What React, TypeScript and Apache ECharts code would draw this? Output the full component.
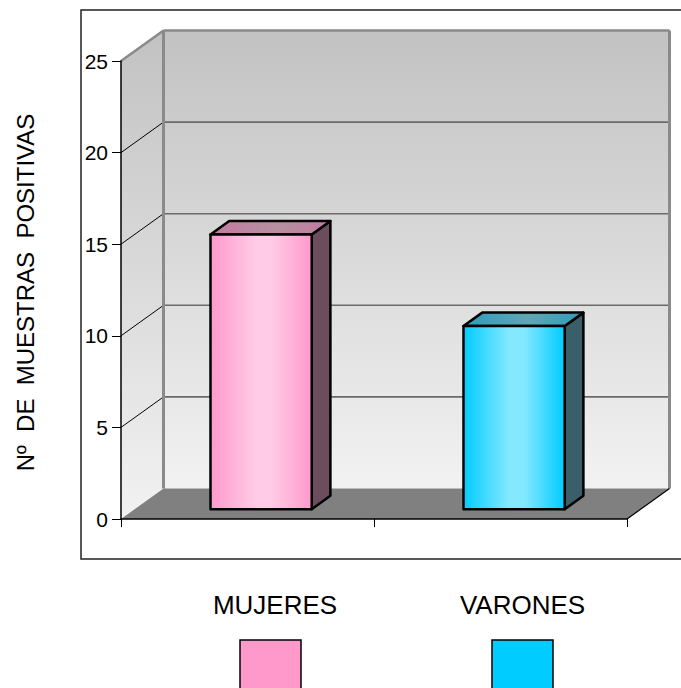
import React, { useEffect, useRef } from "react";
import * as echarts from "echarts";

const categories = ["MUJERES", "VARONES"];
const values = [15, 10];
const yTicks = [0, 5, 10, 15, 20, 25];
const yTitle = "Nº  DE  MUESTRAS  POSITIVAS";

const FONT = "'Liberation Sans', Arial, Helvetica, sans-serif";
const DX = 42.5;
const DY = -30.5;
const FRONT = 0.32;
const BACK = 0.76;
const BAR_FRAC = 0.4;

const palettes = [
  { edge: "#ff99cc", mid: "#ffcbe6", top1: "#c47aa2", top2: "#b6909f", side: "#6b4d5e", legend: "#ff99cc" },
  { edge: "#00ccff", mid: "#84e8ff", top1: "#2f9cbd", top2: "#5fa6b4", side: "#3b5f69", legend: "#00ccff" },
];

export default function App() {
  const ref = useRef<HTMLDivElement>(null);

  useEffect(() => {
    if (!ref.current) return;
    const chart = echarts.init(ref.current, null, { renderer: "svg" });

    const wallsRender = (params: any, api: any) => {
      const cs = params.coordSys;
      const x0 = cs.x;
      const x1 = cs.x + cs.width;
      const yT = cs.y;
      const yB = cs.y + cs.height;
      const grad = () =>
        new echarts.graphic.LinearGradient(0, 0, 0, 1, [
          { offset: 0, color: "#c2c2c2" },
          { offset: 1, color: "#f2f2f2" },
        ]);
      const children: any[] = [
        {
          type: "rect",
          shape: { x: x0 + DX, y: yT + DY, width: cs.width, height: cs.height },
          style: { fill: grad() },
        },
        {
          type: "polygon",
          shape: { points: [[x0, yT], [x0 + DX, yT + DY], [x0 + DX, yB + DY], [x0, yB]] },
          style: { fill: grad() },
        },
        {
          type: "polygon",
          shape: { points: [[x0, yB], [x0 + DX, yB + DY], [x1 + DX, yB + DY], [x1, yB]] },
          style: { fill: "#808080" },
        },
      ];
      const topV = yTicks[yTicks.length - 1];
      yTicks.forEach((v) => {
        if (v === yTicks[0]) return;
        const y = api.coord([0, v])[1];
        const isTop = v === topV;
        children.push({
          type: "line",
          shape: { x1: x0 + DX, y1: y + DY, x2: x1 + DX, y2: y + DY },
          style: { stroke: isTop ? "#8a8a8a" : "#6a6a6a", lineWidth: isTop ? 2.5 : 1.6 },
        });
        children.push({
          type: "line",
          shape: { x1: x0, y1: y, x2: x0 + DX, y2: y + DY },
          style: { stroke: isTop ? "#8a8a8a" : "#000", lineWidth: isTop ? 2.5 : 1 },
        });
      });
      children.push({
        type: "line",
        shape: { x1: x0 + DX, y1: yT + DY, x2: x0 + DX, y2: yB + DY },
        style: { stroke: "#8a8a8a", lineWidth: 3 },
      });
      children.push({
        type: "line",
        shape: { x1: x1 + DX, y1: yT + DY, x2: x1 + DX, y2: yB + DY },
        style: { stroke: "#8a8a8a", lineWidth: 3 },
      });
      children.push({
        type: "line",
        shape: { x1: x1, y1: yB, x2: x1 + DX, y2: yB + DY },
        style: { stroke: "#000", lineWidth: 1.2 },
      });
      return { type: "group", children };
    };

    const barsRender = (params: any, api: any) => {
      const idx = api.value(0);
      const v = api.value(1);
      const base = api.coord([idx, 0]);
      const top = api.coord([idx, v]);
      const bw = api.size([1, 0])[0] * BAR_FRAC;
      const fx = FRONT * DX;
      const fy = FRONT * DY;
      const ddx = (BACK - FRONT) * DX;
      const ddy = (BACK - FRONT) * DY;
      const l = base[0] - bw / 2 + fx;
      const r = base[0] + bw / 2 + fx;
      const t = top[1] + fy;
      const b = base[1] + fy;
      const p = palettes[idx % palettes.length];
      const stroke = { stroke: "#000", lineWidth: 2.5, lineJoin: "round" };
      return {
        type: "group",
        children: [
          {
            type: "polygon",
            shape: { points: [[r, t], [r + ddx, t + ddy], [r + ddx, b + ddy], [r, b]] },
            style: { fill: p.side, ...stroke },
          },
          {
            type: "polygon",
            shape: { points: [[l, t], [r, t], [r + ddx, t + ddy], [l + ddx, t + ddy]] },
            style: {
              fill: new echarts.graphic.LinearGradient(0, 0, 1, 0, [
                { offset: 0, color: p.top1 },
                { offset: 0.55, color: p.top2 },
                { offset: 1, color: p.top1 },
              ]),
              ...stroke,
            },
          },
          {
            type: "rect",
            shape: { x: l, y: t, width: r - l, height: b - t },
            style: {
              fill: new echarts.graphic.LinearGradient(0, 0, 1, 0, [
                { offset: 0, color: p.edge },
                { offset: 0.45, color: p.mid },
                { offset: 0.6, color: p.mid },
                { offset: 1, color: p.edge },
              ]),
              ...stroke,
            },
          },
        ],
      };
    };

    const legendX = [275, 522.5];
    const legendRectX = [240, 492];
    const graphic: any[] = [
      {
        type: "rect",
        shape: { x: 81, y: 10, width: 640, height: 549 },
        style: { fill: "none", stroke: "#222", lineWidth: 1.5 },
        silent: true,
      },
      {
        type: "text",
        x: 25,
        y: 292.5,
        rotation: Math.PI / 2,
        style: {
          text: yTitle,
          fontSize: 24,
          fontFamily: FONT,
          fill: "#000",
          align: "center",
          verticalAlign: "middle",
        },
        silent: true,
      },
    ];
    categories.forEach((c, i) => {
      graphic.push({
        type: "text",
        x: legendX[i],
        y: 605,
        style: {
          text: c,
          fontSize: 26,
          fontFamily: FONT,
          fill: "#000",
          align: "center",
          verticalAlign: "middle",
        },
        silent: true,
      });
      graphic.push({
        type: "rect",
        shape: { x: legendRectX[i], y: 640, width: 61, height: 70 },
        style: { fill: palettes[i].legend, stroke: "#000", lineWidth: 1.5 },
        silent: true,
      });
    });

    chart.setOption({
      animation: false,
      backgroundColor: "#fff",
      grid: { left: 121, top: 61, width: 506, height: 458, containLabel: false },
      xAxis: {
        type: "category",
        data: categories,
        z: 5,
        axisLine: { show: true, lineStyle: { color: "#000", width: 1.5 } },
        axisTick: { show: true, length: 8, alignWithLabel: false, lineStyle: { color: "#000", width: 1 } },
        axisLabel: { show: false },
        splitLine: { show: false },
      },
      yAxis: {
        type: "value",
        min: yTicks[0],
        max: yTicks[yTicks.length - 1],
        interval: yTicks[1] - yTicks[0],
        z: 5,
        axisLine: { show: true, lineStyle: { color: "#000", width: 1.5 } },
        axisTick: { show: true, length: 9, lineStyle: { color: "#000", width: 1 } },
        axisLabel: { fontSize: 21, color: "#000", margin: 13, fontFamily: FONT },
        splitLine: { show: false },
      },
      graphic,
      series: [
        {
          type: "custom",
          name: "walls",
          silent: true,
          clip: false,
          z: 1,
          renderItem: wallsRender,
          data: [[0, 0]],
        },
        {
          type: "custom",
          name: "bars",
          silent: true,
          clip: false,
          z: 3,
          renderItem: barsRender,
          data: categories.map((c, i) => [i, values[i]]),
        },
      ],
    });

    return () => chart.dispose();
  }, []);

  return (
    <div
      ref={ref}
      style={{ position: "absolute", left: 0, top: 0, width: 681, height: 688 }}
    />
  );
}
